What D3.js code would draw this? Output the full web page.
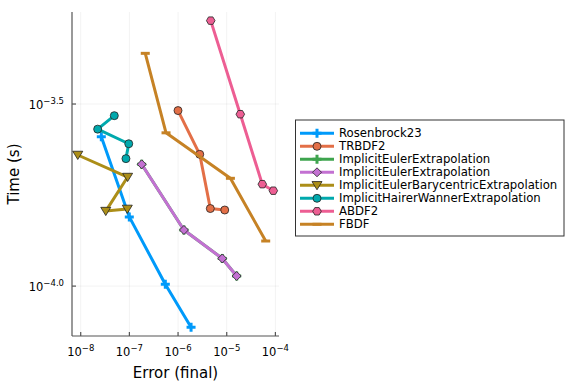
<!DOCTYPE html>
<html>
<head>
<meta charset="utf-8">
<script src="https://cdn.jsdelivr.net/npm/d3@7"></script>
<style>
  body { margin: 0; background: #fff; }
  text { font-family: "DejaVu Sans", sans-serif; fill: #000; }
</style>
</head>
<body>
<svg id="chart" width="576" height="384"></svg>
<script>
// series names, colours, markers
const names = ["Rosenbrock23", "TRBDF2", "ImplicitEulerExtrapolation", "ImplicitEulerExtrapolation",
  "ImplicitEulerBarycentricExtrapolation", "ImplicitHairerWannerExtrapolation", "ABDF2", "FBDF"];
const colors = ["#009AFA", "#E36F47", "#3EA44E", "#C371D2", "#AC8E18", "#00A9AD", "#ED5E93", "#C68225"];
const markers = ["cross", "circle", "cross", "diamond", "dtriangle", "circle", "hexagon", "hline"];

// error (final) and time (s) per series
const errs = [
  [2.65e-8, 9.96e-8, 5.47e-7, 1.85e-6],
  [9.98e-7, 2.79e-6, 4.6e-6, 9.1e-6],
  [1.79e-7, 1.32e-6, 8.1e-6, 1.6e-5],
  [1.79e-7, 1.32e-6, 8.1e-6, 1.6e-5],
  [8.7e-9, 9.2e-8, 3.27e-8, 9.06e-8],
  [4.9e-8, 2.23e-8, 9.7e-8, 8.5e-8],
  [4.69e-6, 1.9e-5, 5.38e-5, 9.06e-5],
  [2.12e-7, 5.66e-7, 1.19e-5, 6.32e-5]
];
const times = [
  [2.57e-4, 1.549e-4, 1.012e-4, 7.71e-5],
  [3.034e-4, 2.301e-4, 1.633e-4, 1.618e-4],
  [2.16e-4, 1.426e-4, 1.191e-4, 1.066e-4],
  [2.16e-4, 1.426e-4, 1.191e-4, 1.066e-4],
  [2.291e-4, 1.993e-4, 1.607e-4, 1.629e-4],
  [2.938e-4, 2.698e-4, 2.46e-4, 2.239e-4],
  [5.358e-4, 2.965e-4, 1.905e-4, 1.828e-4],
  [4.357e-4, 2.636e-4, 1.977e-4, 1.33e-4]
];
const xTicks = [-8, -7, -6, -5, -4];
const yTicks = [-3.5, -4.0];

const svg = d3.select("#chart");
const plot = { left: 72, right: 279, top: 12, bottom: 336 };

const x = d3.scaleLog().domain([Math.pow(10, -8.179), Math.pow(10, -3.926)]).range([plot.left, plot.right]);
const y = d3.scaleLog().domain([Math.pow(10, -4.137), Math.pow(10, -3.2473)]).range([plot.bottom, plot.top]);

// grid
const grid = svg.append("g").attr("stroke", "#000").attr("stroke-opacity", 0.1).attr("stroke-width", 0.5);
xTicks.forEach(t => {
  const px = x(Math.pow(10, t));
  grid.append("line").attr("x1", px).attr("x2", px).attr("y1", plot.top).attr("y2", plot.bottom);
});
yTicks.forEach(t => {
  const py = y(Math.pow(10, t));
  grid.append("line").attr("x1", plot.left).attr("x2", plot.right).attr("y1", py).attr("y2", py);
});

// axes
const axisG = svg.append("g").attr("stroke", "#555").attr("stroke-width", 1.2);
axisG.append("line").attr("x1", plot.left).attr("x2", plot.left).attr("y1", plot.top).attr("y2", plot.bottom);
axisG.append("line").attr("x1", plot.left).attr("x2", plot.right).attr("y1", plot.bottom).attr("y2", plot.bottom);
xTicks.forEach(t => {
  const px = x(Math.pow(10, t));
  axisG.append("line").attr("x1", px).attr("x2", px).attr("y1", plot.bottom).attr("y2", plot.bottom - 4);
  const tx = svg.append("text").attr("x", px).attr("y", 356).attr("text-anchor", "middle").attr("font-size", 11.5);
  tx.append("tspan").text("10");
  tx.append("tspan").attr("dy", -5).attr("font-size", 8.5).text("\u2212" + Math.abs(t));
});
yTicks.forEach(t => {
  const py = y(Math.pow(10, t));
  axisG.append("line").attr("x1", plot.left).attr("x2", plot.left + 4).attr("y1", py).attr("y2", py);
  const ty = svg.append("text").attr("x", 64).attr("y", py + 5).attr("text-anchor", "end").attr("font-size", 11.5);
  ty.append("tspan").text("10");
  ty.append("tspan").attr("dy", -5).attr("font-size", 8.5).text("\u2212" + Math.abs(t).toFixed(1));
});

svg.append("text").attr("x", (plot.left + plot.right) / 2).attr("y", 378).attr("text-anchor", "middle")
  .attr("font-size", 15).text("Error (final)");
svg.append("text").attr("transform", "translate(19," + (plot.top + plot.bottom) / 2 + ") rotate(-90)")
  .attr("text-anchor", "middle").attr("font-size", 15).text("Time (s)");

// marker drawing
function drawMarker(g, kind, cx, cy, color) {
  if (kind === "circle") {
    g.append("circle").attr("cx", cx).attr("cy", cy).attr("r", 4)
      .attr("fill", color).attr("stroke", "#222").attr("stroke-width", 0.8);
  } else if (kind === "diamond") {
    const s = 4.5;
    g.append("path").attr("d", `M${cx},${cy - s}L${cx + s},${cy}L${cx},${cy + s}L${cx - s},${cy}Z`)
      .attr("fill", color).attr("stroke", "#222").attr("stroke-width", 0.8);
  } else if (kind === "dtriangle") {
    const s = 5;
    g.append("path").attr("d", `M${cx - s},${cy - s * 0.75}L${cx + s},${cy - s * 0.75}L${cx},${cy + s * 0.9}Z`)
      .attr("fill", color).attr("stroke", "#222").attr("stroke-width", 0.8);
  } else if (kind === "hexagon") {
    const s = 4.3;
    const pts = d3.range(6).map(i => {
      const a = Math.PI / 3 * i;
      return [cx + s * Math.cos(a), cy + s * Math.sin(a)];
    });
    g.append("path").attr("d", "M" + pts.join("L") + "Z")
      .attr("fill", color).attr("stroke", "#222").attr("stroke-width", 0.8);
  } else if (kind === "cross") {
    const s = 4.5;
    g.append("path").attr("d", `M${cx - s},${cy}H${cx + s}M${cx},${cy - s}V${cy + s}`)
      .attr("stroke", color).attr("stroke-width", 3).attr("fill", "none");
  } else if (kind === "hline") {
    const s = 4.5;
    g.append("path").attr("d", `M${cx - s},${cy}H${cx + s}`)
      .attr("stroke", color).attr("stroke-width", 3).attr("fill", "none");
  }
}

const line = d3.line().x(d => x(d[0])).y(d => y(d[1]));

names.forEach((name, i) => {
  const pts = errs[i].map((e, j) => [e, times[i][j]]);
  const g = svg.append("g");
  g.append("path").attr("d", line(pts)).attr("fill", "none")
    .attr("stroke", colors[i]).attr("stroke-width", 3).attr("stroke-linejoin", "round");
  pts.forEach(p => drawMarker(g, markers[i], x(p[0]), y(p[1]), colors[i]));
});

// legend
const leg = svg.append("g");
leg.append("rect").attr("x", 295.5).attr("y", 120).attr("width", 268.5).attr("height", 116)
  .attr("fill", "#fff").attr("stroke", "#333").attr("stroke-width", 1);
names.forEach((name, i) => {
  const ly = 133.3 + i * 13;
  leg.append("line").attr("x1", 300).attr("x2", 334).attr("y1", ly).attr("y2", ly)
    .attr("stroke", colors[i]).attr("stroke-width", 3);
  drawMarker(leg, markers[i], 317, ly, colors[i]);
  leg.append("text").attr("x", 339).attr("y", ly + 4).attr("font-size", 11.7).text(name);
});
</script>
</body>
</html>
